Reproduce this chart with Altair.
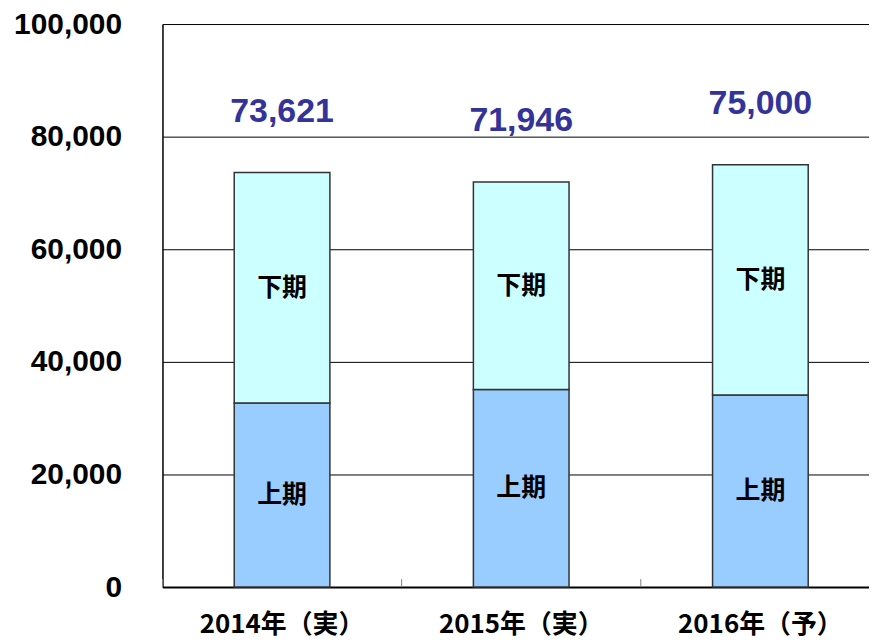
import altair as alt
import pandas as pd

years = ["2014年（実）", "2015年（実）", "2016年（予）"]
halves = ["上期", "下期"]
first_half = [32700, 35100, 34100]
second_half = [40921, 36846, 40900]
totals = [73621, 71946, 75000]
total_labels = ["73,621", "71,946", "75,000"]
y_ticks = [0, 20000, 40000, 60000, 80000, 100000]

rows = []
for i, yr in enumerate(years):
    rows.append({"year": yr, "half": halves[0], "value": first_half[i], "order": 0})
    rows.append({"year": yr, "half": halves[1], "value": second_half[i], "order": 1})
df = pd.DataFrame(rows)
tot = pd.DataFrame({"year": years, "total": totals, "label": total_labels})

x_scale = alt.Scale(domain=years, paddingInner=0.6, paddingOuter=0.2771, align=0.5414)
y_scale = alt.Scale(domain=[0, 100000], nice=False)

x_axis = alt.Axis(title=None, labelAngle=0, domain=False, ticks=False, grid=False,
                  labelFont="Noto Sans CJK JP", labelFontSize=26, labelFontWeight="bold",
                  labelColor="black", labelPadding=25)
y_axis = alt.Axis(title=None, values=y_ticks, format=",.0f", ticks=False, tickSize=0,
                  labelFont="Liberation Sans", labelFontSize=30, labelFontWeight="bold",
                  labelColor="black", labelPadding=41, domainColor="black", domainWidth=1.5,
                  grid=True, gridColor="black", gridOpacity=1,
                  gridWidth=alt.condition("datum.value === 0", alt.value(2), alt.value(1)))

base = alt.Chart(df).transform_stack(
    stack="value", as_=["v0", "v1"], groupby=["year"], sort=[alt.SortField("order")]
).transform_calculate(mid="(datum.v0 + datum.v1) / 2")

bars = base.mark_bar(stroke="#333333", strokeWidth=1.5).encode(
    x=alt.X("year:N", scale=x_scale, axis=x_axis, sort=years),
    y=alt.Y("v0:Q", scale=y_scale, axis=y_axis),
    y2="v1:Q",
    color=alt.Color("half:N", scale=alt.Scale(domain=halves, range=["#99CCFF", "#CCFFFF"]), legend=None),
)

seg_text = base.mark_text(font="Noto Sans CJK JP", fontSize=25, fontWeight="bold",
                          color="black", baseline="middle").encode(
    x=alt.X("year:N", sort=years),
    y=alt.Y("mid:Q"),
    text="half:N",
)

tot_text = alt.Chart(tot).mark_text(font="Liberation Sans", fontSize=34, fontWeight="bold",
                                    color="#333399", baseline="bottom", dy=-44).encode(
    x=alt.X("year:N", sort=years),
    y=alt.Y("total:Q"),
    text="label:N",
)

ticks = alt.Chart(tot).mark_rule(color="#808080", strokeWidth=1, xOffset=-72).encode(
    x=alt.X("year:N", sort=years, bandPosition=0),
    y=alt.value(565),
    y2=alt.value(557),
)

chart = alt.layer(bars, seg_text, tot_text, ticks).properties(
    width=709, height=565,
    padding={"left": 5, "top": 0, "right": 0, "bottom": 0},
).configure_view(stroke=None)

chart.save("out.html", embed_options={"renderer": "svg", "actions": False})
